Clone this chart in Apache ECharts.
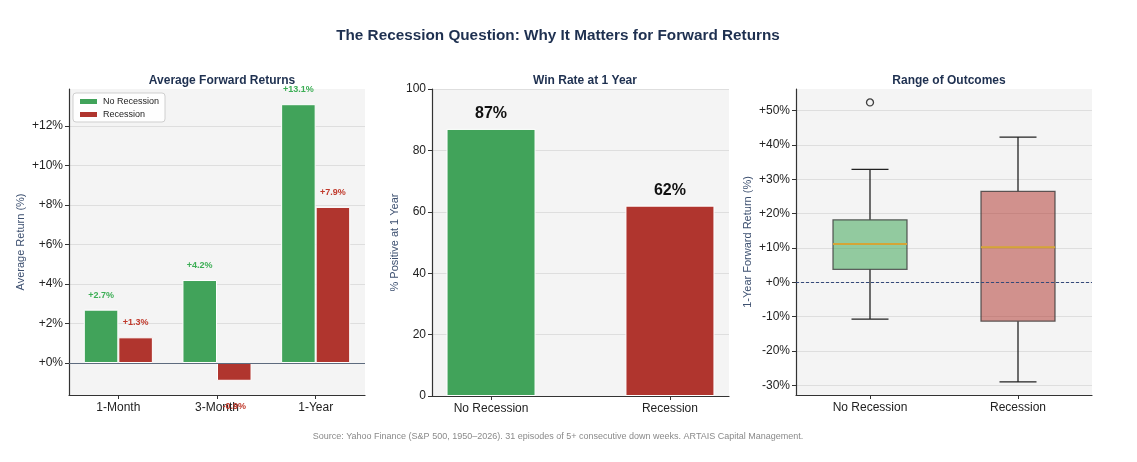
<!DOCTYPE html>
<html>
<head>
<meta charset="utf-8">
<script src="https://cdn.jsdelivr.net/npm/echarts@6/dist/echarts.min.js"></script>
<style>
html,body{margin:0;padding:0;background:#fff;}
#c{width:1137px;height:462px;}
</style>
</head>
<body>
<div id="c"></div>
<script>
// ---- Data ----
const horizons = ['1-Month', '3-Month', '1-Year'];
const avgNoRecession = [2.7, 4.2, 13.1];
const avgRecession = [1.3, -0.9, 7.9];
const avgTicks = [0, 2, 4, 6, 8, 10, 12];

const winGroups = ['No Recession', 'Recession'];
const winRate = [87, 62];
const winTicks = [0, 20, 40, 60, 80, 100];

const boxGroups = ['No Recession', 'Recession'];
const boxLow = [-10.7, -29.0];
const boxQ1 = [3.8, -11.3];
const boxMedian = [11.2, 10.2];
const boxQ3 = [18.2, 26.5];
const boxHigh = [32.9, 42.3];
const outliers = [[0, 52.4]];
const boxTicks = [-30, -20, -10, 0, 10, 20, 30, 40, 50];

// ---- Styles ----
const FONT = '"Liberation Sans", Arial, Helvetica, sans-serif';
const GREEN = '#41a35a';
const RED = '#b0352e';
const NAVY = '#1e3050';
const AXISNAME = '#3d5070';
const BG = '#f4f4f4';
const pct = v => (v >= 0 ? '+' : '') + v + '%';
const pct1 = v => (v >= 0 ? '+' : '') + v.toFixed(1) + '%';

const chart = echarts.init(document.getElementById('c'), null, {renderer: 'canvas'});

const grids = [
  {left: 69, top: 89, width: 296, height: 306},
  {left: 432, top: 89, width: 297, height: 307},
  {left: 796, top: 89, width: 296, height: 306}
];

const axisLineStyle = {show: true, onZero: false, lineStyle: {color: '#333', width: 1.2}};
const tickStyle = {show: true, length: 4, lineStyle: {color: '#333'}};
const labelStyle = {color: '#222', fontSize: 12, fontFamily: FONT};
const splitStyle = {show: true, lineStyle: {color: '#dedede', width: 1}};

const option = {
  backgroundColor: '#fff',
  animation: false,
  title: [
    {text: 'The Recession Question: Why It Matters for Forward Returns', left: 553, top: 23, textAlign: 'center',
     textStyle: {color: NAVY, fontSize: 15.3, fontWeight: 'bold', fontFamily: FONT}},
    {text: 'Average Forward Returns', left: 217, top: 70, textAlign: 'center',
     textStyle: {color: NAVY, fontSize: 12, fontWeight: 'bold', fontFamily: FONT}},
    {text: 'Win Rate at 1 Year', left: 580, top: 70, textAlign: 'center',
     textStyle: {color: NAVY, fontSize: 12, fontWeight: 'bold', fontFamily: FONT}},
    {text: 'Range of Outcomes', left: 944, top: 70, textAlign: 'center',
     textStyle: {color: NAVY, fontSize: 12, fontWeight: 'bold', fontFamily: FONT}},
    {text: 'Source: Yahoo Finance (S&P 500, 1950\u20132026). 31 episodes of 5+ consecutive down weeks. ARTAIS Capital Management.',
     left: 553, top: 427, textAlign: 'center',
     textStyle: {color: '#8a8a8a', fontSize: 9, fontWeight: 'normal', fontFamily: FONT}}
  ],
  legend: {
    data: ['No Recession', 'Recession'],
    left: 73, top: 93, orient: 'vertical',
    itemWidth: 19, itemHeight: 7, itemGap: 4,
    padding: [4, 6, 3, 5],
    backgroundColor: 'rgba(255,255,255,0.85)', borderColor: '#cfcfcf', borderWidth: 1, borderRadius: 3,
    textStyle: {fontSize: 9, color: '#222', fontFamily: FONT},
    icon: 'rect'
  },
  grid: grids.map(g => Object.assign({containLabel: false, show: true, backgroundColor: BG, borderWidth: 0}, g)),
  xAxis: [
    {
      gridIndex: 0, type: 'category', data: horizons,
      axisLine: axisLineStyle,
      axisTick: Object.assign({alignWithLabel: true}, tickStyle),
      axisLabel: Object.assign({margin: 7}, labelStyle),
      splitLine: {show: false}
    },
    {
      gridIndex: 1, type: 'value', min: -0.33, max: 1.33,
      axisLine: axisLineStyle,
      axisTick: Object.assign({customValues: [0, 1]}, tickStyle),
      axisLabel: Object.assign({customValues: [0, 1], margin: 7,
        formatter: v => winGroups[Math.round(v)]}, labelStyle),
      splitLine: {show: false}
    },
    {
      gridIndex: 2, type: 'category', data: boxGroups,
      axisLine: axisLineStyle,
      axisTick: Object.assign({alignWithLabel: true}, tickStyle),
      axisLabel: Object.assign({margin: 7}, labelStyle),
      splitLine: {show: false}
    }
  ],
  yAxis: [
    {
      gridIndex: 0, type: 'value', min: -1.62, max: 13.87,
      name: 'Average Return (%)', nameLocation: 'middle', nameGap: 43,
      nameTextStyle: {color: AXISNAME, fontSize: 11, fontFamily: FONT},
      axisLine: axisLineStyle,
      axisTick: Object.assign({customValues: avgTicks}, tickStyle),
      axisLabel: Object.assign({customValues: avgTicks, formatter: pct, margin: 6}, labelStyle),
      splitLine: splitStyle
    },
    {
      gridIndex: 1, type: 'value', min: 0, max: 100,
      name: '% Positive at 1 Year', nameLocation: 'middle', nameGap: 32,
      nameTextStyle: {color: AXISNAME, fontSize: 11, fontFamily: FONT},
      axisLine: axisLineStyle,
      axisTick: Object.assign({customValues: winTicks}, tickStyle),
      axisLabel: Object.assign({customValues: winTicks, margin: 6}, labelStyle),
      splitLine: splitStyle
    },
    {
      gridIndex: 2, type: 'value', min: -32.8, max: 56.3,
      name: '1-Year Forward Return (%)', nameLocation: 'middle', nameGap: 43,
      nameTextStyle: {color: AXISNAME, fontSize: 11, fontFamily: FONT},
      axisLine: axisLineStyle,
      axisTick: Object.assign({customValues: boxTicks}, tickStyle),
      axisLabel: Object.assign({customValues: boxTicks, formatter: pct, margin: 6}, labelStyle),
      splitLine: splitStyle
    }
  ],
  series: [
    {
      name: 'No Recession', type: 'bar', xAxisIndex: 0, yAxisIndex: 0,
      barWidth: '35%', barGap: '0%',
      itemStyle: {color: GREEN, borderColor: '#fff', borderWidth: 1},
      data: avgNoRecession.map(v => ({value: v})),
      label: {show: true, position: 'top', distance: 10, formatter: p => pct1(p.value),
        color: '#3cae55', fontSize: 9, fontWeight: 'bold', fontFamily: FONT},
      markLine: {
        silent: true, symbol: 'none', label: {show: false},
        lineStyle: {color: '#5d6b7e', width: 1.2, type: 'solid'},
        data: [{yAxis: 0}]
      },
      z: 3
    },
    {
      name: 'Recession', type: 'bar', xAxisIndex: 0, yAxisIndex: 0,
      barWidth: '35%', barGap: '0%',
      itemStyle: {color: RED, borderColor: '#fff', borderWidth: 1},
      data: avgRecession.map(v => v >= 0 ? {value: v} : {value: v, label: {position: 'bottom', distance: 21}}),
      label: {show: true, position: 'top', distance: 10, formatter: p => pct1(p.value),
        color: '#c0392b', fontSize: 9, fontWeight: 'bold', fontFamily: FONT},
      z: 3
    },
    {
      name: 'Win Rate', type: 'bar', xAxisIndex: 1, yAxisIndex: 1,
      barWidth: 89,
      data: winRate.map((v, i) => ({value: [i, v], itemStyle: {color: i === 0 ? GREEN : RED}})),
      itemStyle: {borderColor: '#fff', borderWidth: 1},
      label: {show: true, position: 'top', distance: 7, formatter: p => p.value[1] + '%',
        color: '#111', fontSize: 16, fontWeight: 'bold', fontFamily: FONT}
    },
    {
      name: 'Box', type: 'custom', xAxisIndex: 2, yAxisIndex: 2,
      data: boxGroups.map((g, i) => [i, boxLow[i], boxQ1[i], boxMedian[i], boxQ3[i], boxHigh[i]]),
      encode: {x: 0, y: [1, 2, 3, 4, 5]},
      renderItem: function (params, api) {
        const i = api.value(0);
        const pLow = api.coord([i, api.value(1)]);
        const pQ1 = api.coord([i, api.value(2)]);
        const pMed = api.coord([i, api.value(3)]);
        const pQ3 = api.coord([i, api.value(4)]);
        const pHigh = api.coord([i, api.value(5)]);
        const band = api.size([1, 0])[0];
        const bw = band * 0.5, cw = band * 0.25;
        const cx = pQ1[0];
        const fill = i === 0 ? 'rgba(65,168,90,0.55)' : 'rgba(176,53,46,0.52)';
        const wStyle = {stroke: '#222', lineWidth: 1.3};
        return {
          type: 'group',
          children: [
            {type: 'line', shape: {x1: cx, y1: pQ1[1], x2: cx, y2: pLow[1]}, style: wStyle},
            {type: 'line', shape: {x1: cx, y1: pQ3[1], x2: cx, y2: pHigh[1]}, style: wStyle},
            {type: 'line', shape: {x1: cx - cw / 2, y1: pLow[1], x2: cx + cw / 2, y2: pLow[1]}, style: wStyle},
            {type: 'line', shape: {x1: cx - cw / 2, y1: pHigh[1], x2: cx + cw / 2, y2: pHigh[1]}, style: wStyle},
            {type: 'rect', shape: {x: cx - bw / 2, y: pQ3[1], width: bw, height: pQ1[1] - pQ3[1]},
             style: {fill: fill, stroke: 'rgba(60,60,60,0.8)', lineWidth: 1.3}},
            {type: 'line', shape: {x1: cx - bw / 2, y1: pMed[1], x2: cx + bw / 2, y2: pMed[1]},
             style: {stroke: '#d4a537', lineWidth: 2}}
          ]
        };
      },
      markLine: {
        silent: true, symbol: 'none', label: {show: false},
        lineStyle: {color: '#34497a', width: 1, type: [3, 2]},
        data: [{yAxis: 0}]
      },
      z: 3
    },
    {
      name: 'Outliers', type: 'scatter', xAxisIndex: 2, yAxisIndex: 2,
      data: outliers, symbol: 'circle', symbolSize: 7,
      itemStyle: {color: 'rgba(0,0,0,0)', borderColor: '#111', borderWidth: 1.3},
      z: 4
    }
  ]
};
chart.setOption(option);
</script>
</body>
</html>
